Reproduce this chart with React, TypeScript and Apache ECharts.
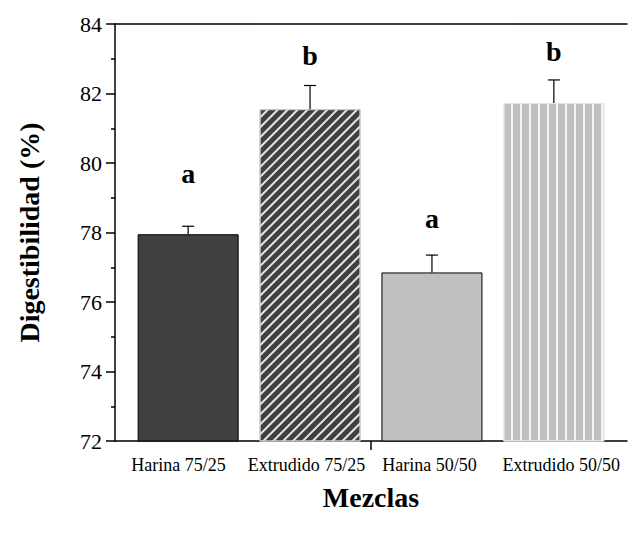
import React, { useEffect, useRef } from "react";
import * as echarts from "echarts";

const categories = ["Harina 75/25", "Extrudido 75/25", "Harina 50/50", "Extrudido 50/50"];
const positions = [1, 2, 3, 4];
const labelPositions = [0.92, 1.97, 2.98, 4.06];
const means = [77.95, 81.55, 76.85, 81.73];
const errUpper = [0.23, 0.68, 0.5, 0.66];
const letters = ["a", "b", "a", "b"];
const letterY = [79.3, 82.68, 78.0, 82.82];
const yTicks = [72, 74, 76, 78, 80, 82, 84];

const FONT = '"Liberation Serif", "Times New Roman", serif';

const barStyles: any[] = [
  { color: "#404040", borderColor: "#000000", borderWidth: 1 },
  {
    color: "#404040",
    borderColor: "#c8c8c8",
    borderWidth: 1,
    decal: { symbol: "rect", color: "#e6e6e6", dashArrayX: [1, 0], dashArrayY: [1.1, 4.6], rotation: -Math.PI / 4, symbolSize: 1 },
  },
  { color: "#c0c0c0", borderColor: "#000000", borderWidth: 1 },
  {
    color: "#c0c0c0",
    borderColor: "#e8e8e8",
    borderWidth: 1,
    decal: { symbol: "rect", color: "#f4f4f4", dashArrayX: [1, 0], dashArrayY: [1.4, 7.0], rotation: Math.PI / 2, symbolSize: 1 },
  },
];

export default function App() {
  const ref = useRef<HTMLDivElement>(null);
  useEffect(() => {
    const chart = echarts.init(ref.current!, null, { renderer: "svg" });
    const barData = positions.map((p, i) => ({ value: [p, means[i]], itemStyle: barStyles[i] }));
    const errData = positions.map((p, i) => [p, means[i], means[i] + errUpper[i]]);
    const letterData = positions.map((p, i) => [p, letterY[i], i]);
    chart.setOption({
      animation: false,
      grid: { left: 115, right: 1, top: 24, bottom: 95 },
      xAxis: [
        {
          type: "value",
          min: 0.4,
          max: 4.6,
          splitLine: { show: false },
          axisLine: { show: true, lineStyle: { color: "#000", width: 1.5 } },
          axisTick: { show: true, customValues: [2.5], inside: false, length: 9, lineStyle: { color: "#000", width: 1.5 } },
          axisLabel: {
            customValues: labelPositions,
            formatter: (v: number) => categories[labelPositions.indexOf(v)] ?? "",
            fontFamily: FONT,
            fontSize: 18,
            color: "#000",
            margin: 15,
          },
          name: "Mezclas",
          nameLocation: "middle",
          nameGap: 42,
          nameTextStyle: { fontFamily: FONT, fontSize: 28, fontWeight: "bold", color: "#000" },
        },
        {
          type: "value",
          position: "top",
          min: 0.4,
          max: 4.6,
          splitLine: { show: false },
          axisLine: { show: true, lineStyle: { color: "#000", width: 1.5 } },
          axisTick: { show: false },
          axisLabel: { show: false },
        },
      ],
      yAxis: {
        type: "value",
        min: 72,
        max: 84,
        interval: 2,
        splitLine: { show: false },
        axisLine: { show: true, lineStyle: { color: "#000", width: 1.5 } },
        axisTick: { show: true, inside: false, length: 9, lineStyle: { color: "#000", width: 1.5 } },
        minorTick: { show: true, splitNumber: 2, length: 4, lineStyle: { color: "#000", width: 1.5 } },
        axisLabel: {
          fontFamily: FONT,
          fontSize: 22,
          color: "#000",
          margin: 13,
          formatter: (v: number) => (yTicks.includes(v) ? String(v) : ""),
        },
        name: "Digestibilidad (%)",
        nameLocation: "middle",
        nameGap: 72,
        nameTextStyle: { fontFamily: FONT, fontSize: 28, fontWeight: "bold", color: "#000" },
      },
      series: [
        {
          type: "bar",
          xAxisIndex: 0,
          barWidth: 101,
          data: barData,
        },
        {
          type: "custom",
          xAxisIndex: 0,
          z: 5,
          data: errData,
          renderItem: (params: any, api: any) => {
            const x = api.value(0);
            const base = api.coord([x, api.value(1)]);
            const top = api.coord([x, api.value(2)]);
            const half = 6;
            return {
              type: "group",
              children: [
                { type: "line", shape: { x1: base[0], y1: base[1], x2: top[0], y2: top[1] }, style: { stroke: "#000", lineWidth: 1.2 } },
                { type: "line", shape: { x1: top[0] - half, y1: top[1], x2: top[0] + half, y2: top[1] }, style: { stroke: "#000", lineWidth: 1.2 } },
              ],
            };
          },
        },
        {
          type: "custom",
          xAxisIndex: 0,
          z: 6,
          data: letterData,
          renderItem: (params: any, api: any) => {
            const pt = api.coord([api.value(0), api.value(1)]);
            return {
              type: "text",
              x: pt[0],
              y: pt[1],
              style: {
                text: letters[api.value(2)],
                fontFamily: FONT,
                fontSize: 28,
                fontWeight: "bold",
                fill: "#000",
                textAlign: "center",
                textVerticalAlign: "bottom",
              },
            };
          },
        },
      ],
    });
    return () => chart.dispose();
  }, []);
  return <div ref={ref} style={{ width: 628, height: 536, position: "absolute", left: 0, top: 0 }} />;
}
